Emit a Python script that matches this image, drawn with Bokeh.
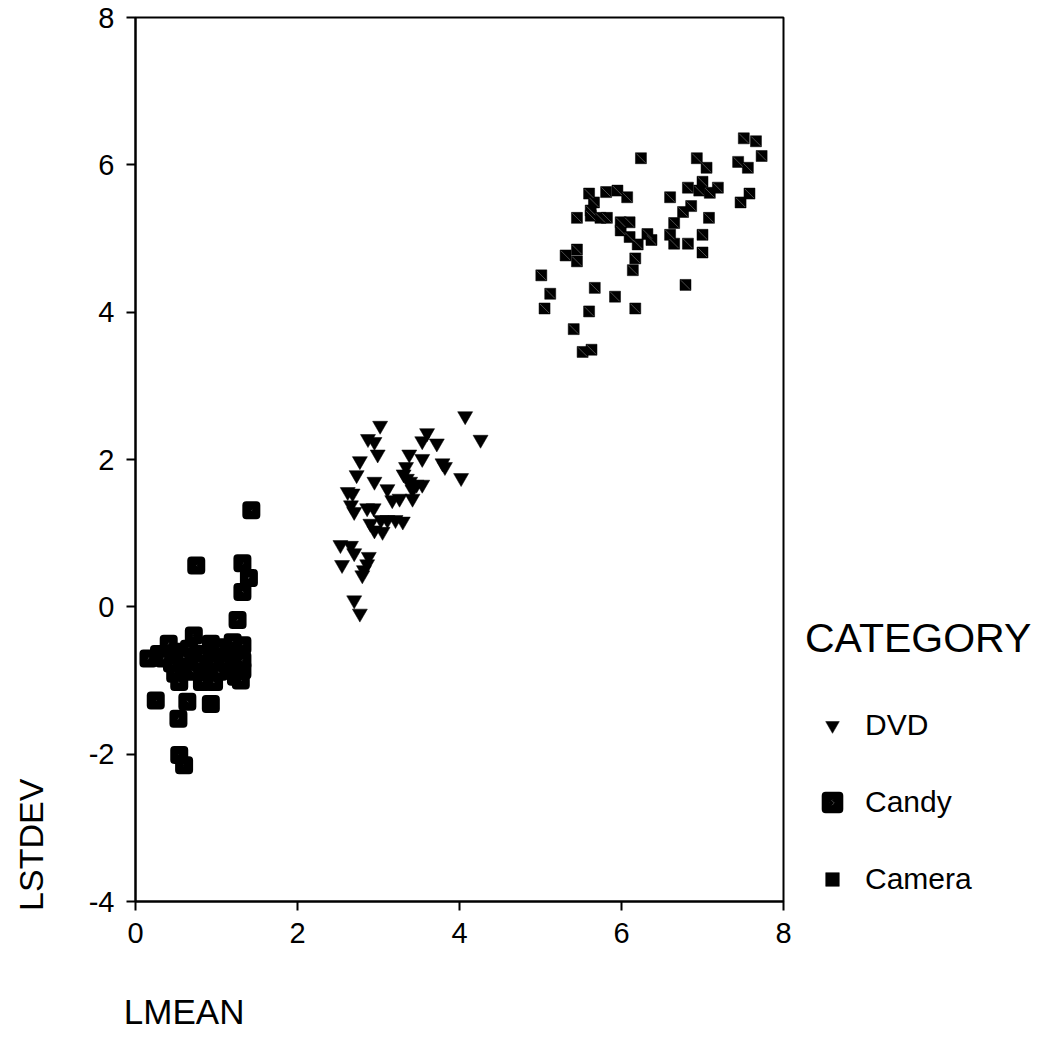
import math
from bokeh.plotting import figure
from bokeh.models import (Range1d, FixedTicker, Legend, LegendItem)
from bokeh.embed import file_html
from bokeh.resources import INLINE

# ---- data ----
candy_x = [1.43, 0.75, 1.32, 1.40, 1.32, 1.26,
           0.72, 1.20, 0.41, 0.93, 1.32,
           0.16, 0.29, 0.54, 0.66, 0.82, 0.99, 1.24, 1.32,
           0.45, 0.62, 0.78, 0.95, 1.11,
           1.32, 0.49, 0.70, 0.87, 1.03, 1.24,
           0.54, 0.82, 0.97, 1.30,
           0.25, 0.64, 0.93, 0.53, 0.54, 0.60,
           0.35, 1.15, 0.60, 1.05]
candy_y = [1.31, 0.56, 0.59, 0.39, 0.20, -0.18,
           -0.39, -0.48, -0.50, -0.50, -0.52,
           -0.70, -0.64, -0.61, -0.57, -0.64, -0.68, -0.64, -0.73,
           -0.77, -0.77, -0.77, -0.77, -0.77,
           -0.86, -0.91, -0.88, -0.91, -0.88, -0.95,
           -1.02, -1.02, -1.02, -1.00,
           -1.27, -1.29, -1.32, -1.52, -2.01, -2.15,
           -0.70, -0.60, -0.68, -0.55]

dvd_x = [4.07, 4.26, 3.02, 2.87, 2.95, 2.99, 2.77, 2.73,
         3.60, 3.54, 3.72, 3.38, 3.54, 3.79, 3.82, 3.34, 3.31, 4.02,
         2.95, 3.11, 3.39, 3.54, 3.42, 2.62, 2.68, 3.42, 3.17, 3.26,
         2.66, 2.70, 2.86, 2.94, 2.90, 3.03, 3.11, 3.21, 3.30, 2.95, 3.05,
         2.53, 2.66, 2.70, 2.88, 2.55, 2.86, 2.80, 2.82, 2.70, 2.77,
         3.35, 3.47]
dvd_y = [2.59, 2.27, 2.46, 2.28, 2.24, 2.07, 1.98, 1.79,
         2.36, 2.25, 2.22, 2.07, 2.01, 1.95, 1.90, 1.90, 1.80, 1.75,
         1.70, 1.60, 1.70, 1.66, 1.59, 1.56, 1.54, 1.47, 1.45, 1.47,
         1.38, 1.29, 1.34, 1.34, 1.13, 1.18, 1.18, 1.18, 1.16, 1.04, 1.02,
         0.84, 0.83, 0.73, 0.68, 0.57, 0.58, 0.43, 0.50, 0.09, -0.09,
         1.74, 1.66]

camera_x = [6.24, 5.60, 5.81, 5.95, 6.07, 5.66, 5.62, 5.62, 5.45, 5.74,
            5.82, 5.99, 6.10, 5.99, 6.10, 6.20, 6.32, 6.37, 6.17, 6.14,
            5.31, 5.45, 5.45, 5.01, 5.12, 5.67, 5.92, 5.05, 5.60, 6.17,
            5.41, 5.52, 5.63,
            7.51, 7.66, 7.73, 6.93, 7.05, 7.44, 7.56, 6.82, 7.00, 6.96,
            7.09, 7.19, 6.60, 6.86, 6.76, 7.58, 7.47, 6.65, 7.08, 6.60,
            6.65, 6.82, 7.00, 7.00, 6.79]
camera_y = [6.09, 5.61, 5.63, 5.65, 5.56, 5.49, 5.38, 5.31, 5.28, 5.28,
            5.28, 5.22, 5.22, 5.11, 5.02, 4.92, 5.06, 4.98, 4.73, 4.57,
            4.77, 4.85, 4.69, 4.50, 4.25, 4.33, 4.21, 4.05, 4.01, 4.05,
            3.77, 3.46, 3.49,
            6.36, 6.32, 6.12, 6.09, 5.96, 6.04, 5.96, 5.69, 5.77, 5.65,
            5.62, 5.69, 5.56, 5.44, 5.36, 5.61, 5.49, 5.21, 5.28, 5.05,
            4.93, 4.93, 5.05, 4.81, 4.37]

x_ticks = [0, 2, 4, 6, 8]
x_tick_labels = ["0", "2", "4", "6", "8"]
y_ticks = [-4, -2, 0, 2, 4, 6, 8]
y_tick_labels = ["-4", "-2", "0", "2", "4", "6", "8"]

FONT = "Liberation Sans"
NB = "\u00a0"

p = figure(frame_width=648, frame_height=884,
           x_range=Range1d(0, 8), y_range=Range1d(-4, 8),
           output_backend="svg", toolbar_location=None,
           min_border_left=135, min_border_top=17,
           min_border_right=10, min_border_bottom=130,
           background_fill_color="white", border_fill_color="white")

p.grid.visible = False
p.outline_line_color = "black"
p.outline_line_width = 2

for ax, ticks, labels in ((p.xaxis[0], x_ticks, x_tick_labels),
                          (p.yaxis[0], y_ticks, y_tick_labels)):
    ax.ticker = FixedTicker(ticks=ticks)
    ax.major_label_overrides = {t: l for t, l in zip(ticks, labels)}
    ax.axis_line_color = "black"
    ax.axis_line_width = 2
    ax.major_tick_line_color = "black"
    ax.major_tick_line_width = 2
    ax.major_tick_out = 9
    ax.major_tick_in = 0
    ax.minor_tick_line_color = None
    ax.major_label_text_font = FONT
    ax.major_label_text_font_size = "29px"
    ax.major_label_text_color = "black"
    ax.major_label_standoff = 12
    ax.axis_label_text_font = FONT
    ax.axis_label_text_font_style = "normal"
    ax.axis_label_text_color = "black"
    ax.axis_label_align = "start"

p.xaxis[0].axis_label = NB * 10 + "LMEAN"
p.xaxis[0].axis_label_text_font_size = "35px"
p.xaxis[0].axis_label_standoff = 46
p.yaxis[0].axis_label = NB * 12 + "LSTDEV"
p.yaxis[0].axis_label_text_font_size = "34px"
p.yaxis[0].axis_label_standoff = 36

r_dvd = p.scatter(dvd_x, dvd_y, marker="inverted_triangle", size=15,
                  fill_color="black", line_color="black", line_width=0.5)
r_candy = p.scatter(candy_x, candy_y, marker="square", size=10,
                    fill_color="black", line_color="black", line_width=8,
                    line_join="round",
                    hatch_pattern="vertical_wave", hatch_color="#707070",
                    hatch_scale=5, hatch_weight=0.6)
r_cam = p.scatter(camera_x, camera_y, marker="square", size=11,
                  fill_color="black", line_color="black", line_width=0.5)
p.scatter(camera_x, camera_y, marker="dash", size=13, angle=-math.pi / 4,
          line_color="#606060", line_width=0.8)

legend = Legend(
    items=[LegendItem(label="DVD", renderers=[r_dvd]),
           LegendItem(label="Candy", renderers=[r_candy]),
           LegendItem(label="Camera", renderers=[r_cam])],
    location=(22, 5),
    title="CATEGORY",
    title_text_font=FONT, title_text_font_size="41px",
    title_text_font_style="normal", title_text_color="black",
    title_standoff=46,
    label_text_font=FONT, label_text_font_size="30px",
    label_text_color="black",
    glyph_width=54, glyph_height=34, label_height=34,
    label_standoff=6, spacing=43, padding=0, margin=0,
    border_line_color=None, background_fill_alpha=0,
)
p.add_layout(legend, "right")

open("out.html", "w").write(file_html(p, INLINE))
